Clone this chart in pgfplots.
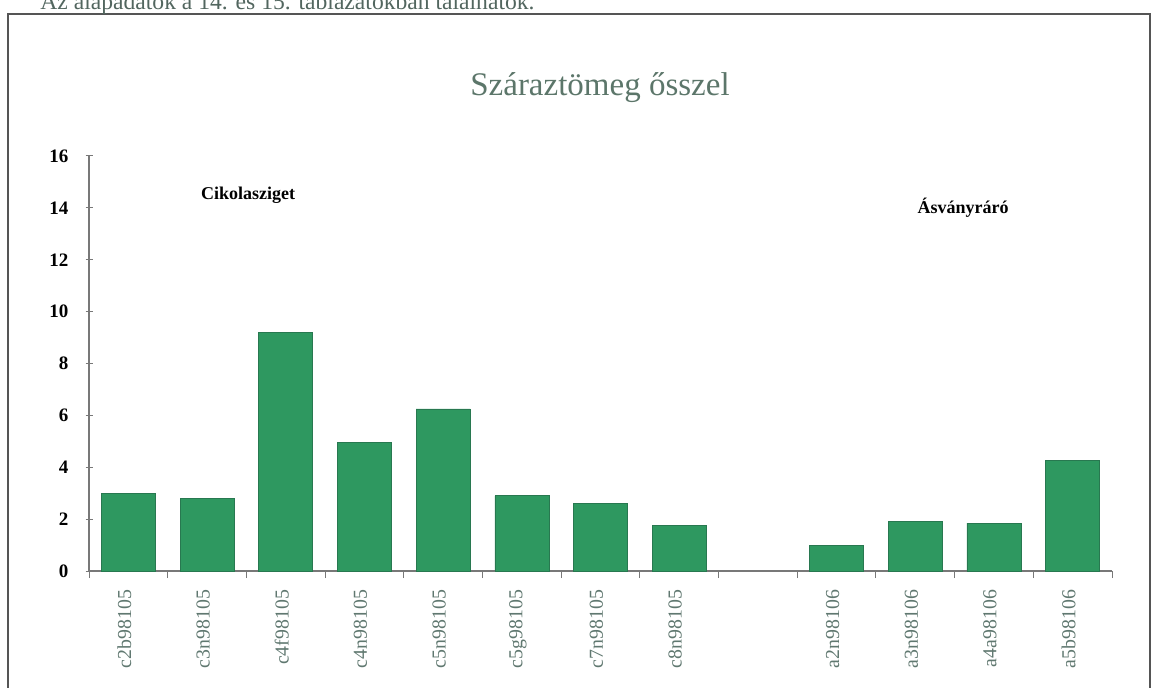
\documentclass[border=0pt]{standalone}
\usepackage{fontspec}
\setmainfont{Liberation Serif}
\usepackage{pgfplots}
\pgfplotsset{compat=1.18}
\definecolor{bargreen}{RGB}{46,152,96}
\definecolor{baredge}{RGB}{40,120,80}
\definecolor{titlegray}{RGB}{92,118,106}
\definecolor{labgray}{RGB}{96,120,112}
\definecolor{axgray}{RGB}{120,120,120}
\definecolor{framegray}{RGB}{85,85,85}
\begin{document}
\begin{tikzpicture}
\useasboundingbox (0pt,0pt) rectangle (577.5pt,-344pt);
% frame of the figure
\draw[framegray, line width=1pt] (4pt,-352pt) -- (4pt,-7pt) -- (575pt,-7pt) -- (575pt,-352pt);
% text line above the frame (cut by the page edge as in the scan)
\node[anchor=base west, inner sep=0pt, text=labgray!85!black, font=\fontsize{11.8pt}{13pt}\selectfont] at (20pt,-5pt) {Az alapadatok a 14. és 15. táblázatokban találhatók.};
\begin{axis}[
  at={(44.5pt,-285.5pt)}, anchor=south west,
  width=511.5pt, height=207.5pt, scale only axis,
  xmin=0, xmax=13, ymin=0, ymax=16,
  axis lines*=left,
  axis line style={-, draw=axgray, line width=0.6pt},
  ytick={0,2,...,16},
  tick align=center,
  major tick length=3.5pt,
  tick style={draw=axgray, line width=0.5pt},
  xtick={0,1,...,13},
  xticklabels={},
  extra x ticks={0.5,1.5,2.5,3.5,4.5,5.5,6.5,7.5,9.5,10.5,11.5,12.5},
  extra x tick labels={c2b98105,c3n98105,c4f98105,c4n98105,c5n98105,c5g98105,c7n98105,c8n98105,a2n98106,a3n98106,a4a98106,a5b98106},
  extra x tick style={major tick length=0pt,
    xticklabel style={rotate=90, anchor=east, text=labgray, font=\fontsize{9.9pt}{11pt}\selectfont, xshift=-6pt, yshift=2pt}},
  yticklabel style={font=\fontsize{9.5pt}{11pt}\selectfont\bfseries, text=black, xshift=-5pt},
  /pgf/number format/assume math mode=true,
  ybar, bar width=27pt,
  clip=false,
]
\addplot[fill=bargreen, draw=baredge, line width=0.3pt] coordinates {
  (0.5,3.0) (1.5,2.8) (2.5,9.2) (3.5,4.95) (4.5,6.25) (5.5,2.9) (6.5,2.6) (7.5,1.75)
  (9.5,1.0) (10.5,1.9) (11.5,1.85) (12.5,4.25)
};
\end{axis}
\node[text=titlegray, font=\fontsize{16.5pt}{19pt}\selectfont] at (300pt,-44pt) {Száraztömeg ősszel};
\node[font=\fontsize{9pt}{10pt}\selectfont\bfseries] at (124pt,-97.5pt) {Cikolasziget};
\node[font=\fontsize{9pt}{10pt}\selectfont\bfseries] at (481.5pt,-104pt) {Ásványráró};
\end{tikzpicture}
\end{document}
